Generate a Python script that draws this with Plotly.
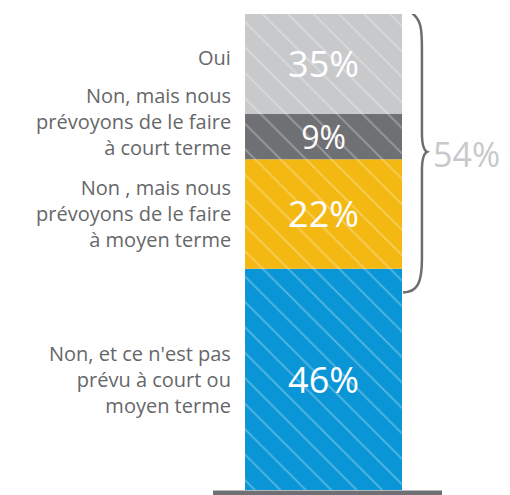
import plotly.graph_objects as go

# Data (bottom to top)
categories = ["Non, et ce n'est pas<br>prévu à court ou<br>moyen terme",
              "Non , mais nous<br>prévoyons de le faire<br>à moyen terme",
              "Non, mais nous<br>prévoyons de le faire<br>à court terme",
              "Oui"]
values = [46.5, 23, 9.5, 21]
value_labels = ["46%", "22%", "9%", "35%"]
colors = ["#0a96d6", "#f4b812", "#6f7073", "#c8c9cb"]
label_yshift = [0, 0, 15, 6]
brace_label = "54%"

fig = go.Figure()
base = 0
centers = []
for cat, v, lab, col in zip(categories, values, value_labels, colors):
    fig.add_trace(go.Bar(
        x=[0], y=[v], base=[base], width=1, name=cat,
        marker=dict(color=col, line=dict(width=0),
                    pattern=dict(shape="\\", fgcolor="white", fgopacity=0.3,
                                 size=18, solidity=0.1)),
        text=[lab], textposition="inside", insidetextanchor="middle",
        constraintext="none",
        textfont=dict(color="white", size=36 if v > 15 else 32, family="Open Sans"),
        hoverinfo="skip", showlegend=False,
    ))
    centers.append(base + v / 2)
    base += v

total = base
annotations = []
for cat, c, ys in zip(categories, centers, label_yshift):
    annotations.append(dict(
        x=-0.5, y=c, xref="x", yref="y", text=cat, showarrow=False,
        xanchor="right", yanchor="middle", align="right", xshift=-12, yshift=ys,
        font=dict(family="Open Sans", size=20, color="#666769")))

# Brace covering the top three segments
top = total + 0.6
bot = values[0] - 5
mid = (top + bot) / 2
xa, xb, xt, xe = 0.545, 0.627, 0.66, 0.506
path = (f"M {xa},{top} C {xb},{top-1.5} {xb},{top-4} {xb},{top-8} "
        f"L {xb},{mid+4} C {xb},{mid+1.5} {xt-0.02},{mid+0.3} {xt},{mid} "
        f"C {xt-0.02},{mid-0.3} {xb},{mid-1.5} {xb},{mid-4} "
        f"L {xb},{bot+7} C {xb},{bot+2} {xb-0.03},{bot} {xe},{bot}")

annotations.append(dict(
    x=xt, y=mid, xref="x", yref="y", text=brace_label, showarrow=False,
    xanchor="left", yanchor="middle", xshift=4, yshift=-2,
    font=dict(family="Open Sans", size=34, color="#c8c9cb")))

shapes = [
    dict(type="path", path=path, xref="x", yref="y",
         line=dict(color="#6d6e71", width=2.5)),
    dict(type="line", x0=0.402, x1=0.851, y0=-0.0063, y1=-0.0063,
         xref="paper", yref="paper",
         line=dict(color="#6f7073", width=5)),
]

fig.update_layout(
    width=510, height=495,
    margin=dict(l=0, r=0, t=6, b=13),
    paper_bgcolor="white", plot_bgcolor="white",
    barmode="overlay",
    xaxis=dict(range=[-2.01, 1.239], visible=False, fixedrange=True),
    yaxis=dict(range=[0, 100], visible=False, fixedrange=True),
    annotations=annotations, shapes=shapes,
    uniformtext=dict(mode=False),
)

fig.write_html("out.html")
